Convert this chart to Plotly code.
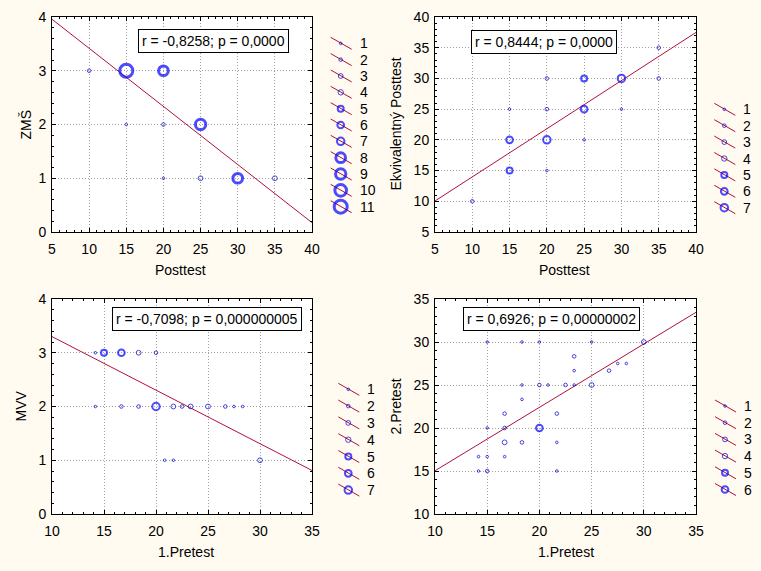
import plotly.graph_objects as go

W, H = 761, 571
FONT = "Arial, 'Liberation Sans', sans-serif"
BG = "#FFFBF0"
BLUE = "#0000FF"
BLUE_THIN = "#0000C8"
RED = "#B0103A"

# ---------------- data ----------------
# Panel 1: Posttest vs ZMŠ (count = number of cases at the point)
p1_x = [10, 15, 20, 15, 20, 25, 20, 25, 30, 35]
p1_y = [3, 3, 3, 2, 2, 2, 1, 1, 1, 1]
p1_n = [2, 11, 8, 1, 2, 9, 1, 3, 8, 3]

# Panel 2: Posttest vs Ekvivalentný Posttest
p2_x = [10, 15, 15, 15, 20, 20, 20, 20, 25, 25, 25, 30, 30, 35, 35]
p2_y = [10, 15, 20, 25, 15, 20, 25, 30, 20, 25, 30, 25, 30, 30, 35]
p2_n = [2, 5, 6, 1, 1, 7, 2, 2, 1, 6, 5, 1, 7, 2, 2]

# Panel 3: 1.Pretest vs MVV
p3_x = [14.17, 15, 16.67, 18.33, 20,
        14.17, 16.67, 18.33, 20, 21.67, 22.5, 23.33, 25, 26.67, 27.5, 28.33,
        20.83, 21.67, 30]
p3_y = [3, 3, 3, 3, 3,
        2, 2, 2, 2, 2, 2, 2, 2, 2, 2, 2,
        1, 1, 1]
p3_n = [1, 5, 6, 3, 2,
        1, 2, 2, 7, 3, 2, 3, 3, 2, 1, 1,
        1, 1, 3]

# Panel 4: 1.Pretest vs 2.Pretest
p4_x = [15, 18.33, 20, 25, 23.33, 23.33, 18.33, 20, 20.83, 22.5, 23.33, 25,
        18.33, 16.67, 21.67, 15, 16.67, 20, 16.67, 18.33, 21.67,
        14.17, 15, 16.67, 14.17, 15, 21.67, 30, 27.5, 28.33, 26.67]
p4_y = [30, 30, 30, 30, 28.33, 26.67, 25, 25, 25, 25, 25, 25,
        23.33, 21.67, 21.67, 20, 20, 20, 18.33, 18.33, 18.33,
        16.67, 16.67, 16.67, 15, 15, 15, 30, 27.5, 27.5, 26.67]
p4_n = [1, 1, 1, 1, 2, 1, 1, 2, 1, 2, 1, 3,
        1, 2, 2, 1, 2, 6, 3, 2, 1,
        1, 1, 1, 1, 2, 1, 3, 1, 1, 2]

x_titles = ["Posttest", "Posttest", "1.Pretest", "1.Pretest"]
y_titles = ["ZMŠ", "Ekvivalentný Posttest", "MVV", "2.Pretest"]
stats = ["r = -0,8258; p = 0,0000", "r = 0,8444; p = 0,0000",
         "r = -0,7098; p = 0,000000005", "r = 0,6926; p = 0,00000002"]
reg_slope = [-0.1081, 0.784, -0.0996, 0.737]
reg_intercept = [4.498, 6.13, 4.296, 7.66]
x_ranges = [[5, 40], [5, 40], [10, 35], [10, 35]]
y_ranges = [[0, 4], [5, 40], [0, 4], [10, 35]]
x_ticks = [[5, 10, 15, 20, 25, 30, 35, 40], [5, 10, 15, 20, 25, 30, 35, 40],
           [10, 15, 20, 25, 30, 35], [10, 15, 20, 25, 30, 35]]
y_ticks = [[0, 1, 2, 3, 4], [5, 10, 15, 20, 25, 30, 35, 40],
           [0, 1, 2, 3, 4], [10, 15, 20, 25, 30, 35]]
legend_max = [11, 7, 7, 6]

series = [(p1_x, p1_y, p1_n), (p2_x, p2_y, p2_n), (p3_x, p3_y, p3_n), (p4_x, p4_y, p4_n)]

# ---------------- layout geometry (pixels) ----------------
panels = [(52, 312, 17, 232), (435, 696, 17, 232), (52, 312, 299, 514), (435, 696, 299, 514)]
y_minor = [0.2, 1, 0.2, 1]
stat_pos = [(213.5, 41.5), (544, 42), (207, 319), (551.5, 318.5)]
xt_pos = [(180.5, 270), (564.7, 270), (186, 551.7), (565.8, 551.7)]
yt_pos = [(25, 124.5), (395, 124.5), (20, 406.5), (395, 406.5)]
leg_pos = [(340.7, 43.3, 16.34), (724.3, 109.3, 16.4), (348.3, 389.3, 16.8), (725, 406, 16.7)]

OUTER = {1: 3.6, 2: 4.6, 3: 5.8, 4: 6.4, 5: 8, 6: 8.7, 7: 9.5, 8: 12.7, 9: 13.3, 10: 14.7, 11: 16}


def ring_width(n):
    return 1 if n <= 4 else (2 if n <= 7 else 3)


def ring_size(n):
    return OUTER[n] - ring_width(n)


def ring_color(n):
    return BLUE_THIN if n <= 4 else BLUE


def px(x):
    return x / W


def py(y):
    return 1 - y / H


fig = go.Figure()
annotations = []
shapes = []

for i in range(4):
    k = "" if i == 0 else str(i + 1)
    xa, ya = "x" + k, "y" + k
    l, r, t, b = panels[i]
    xs, ys, ns = series[i]

    # white plot area
    shapes.append(dict(type="rect", xref=xa + " domain", yref=ya + " domain",
                       x0=0, x1=1, y0=0, y1=1, fillcolor="white",
                       line=dict(width=0), layer="below"))

    # regression line
    x0, x1 = x_ranges[i]
    fig.add_trace(go.Scatter(
        x=[x0, x1], y=[reg_intercept[i] + reg_slope[i] * x0, reg_intercept[i] + reg_slope[i] * x1],
        mode="lines", line=dict(color=RED, width=1), xaxis=xa, yaxis=ya,
        showlegend=False, hoverinfo="skip"))

    # bubble points
    fig.add_trace(go.Scatter(
        x=xs, y=ys, mode="markers", xaxis=xa, yaxis=ya, showlegend=False,
        marker=dict(symbol="circle-open", color=[ring_color(n) for n in ns],
                    size=[ring_size(n) for n in ns],
                    line=dict(width=[ring_width(n) for n in ns]))))

    axis_common = dict(showline=True, linecolor="black", linewidth=1, mirror="ticks",
                       ticks="inside", ticklen=4, tickcolor="black",
                       showgrid=True, gridcolor="#A0A0A0", griddash="1px,2px", gridwidth=1,
                       zeroline=False, tickfont=dict(family=FONT, size=14, color="black"),
                       fixedrange=True, automargin=False)
    fig.update_layout(**{
        ("xaxis" + k): dict(domain=[px(l), px(r)], range=x_ranges[i], tickvals=x_ticks[i],
                            anchor=ya,
                            minor=dict(dtick=1, tick0=0, ticks="inside", ticklen=2,
                                       tickcolor="black", showgrid=False),
                            ticklabelstandoff=4, **axis_common),
        ("yaxis" + k): dict(domain=[py(b), py(t)], range=y_ranges[i], tickvals=y_ticks[i],
                            anchor=xa,
                            minor=dict(dtick=y_minor[i], tick0=0, ticks="inside", ticklen=2,
                                       tickcolor="black", showgrid=False),
                            ticklabelstandoff=2, **axis_common),
    })

    # stats box
    sx, sy = stat_pos[i]
    annotations.append(dict(x=px(sx), y=py(sy), xref="paper", yref="paper",
                            text=stats[i], showarrow=False, xanchor="center", yanchor="middle",
                            bgcolor="white", bordercolor="black", borderwidth=1, borderpad=3,
                            font=dict(family=FONT, size=14, color="black")))
    # axis titles
    tx, ty = xt_pos[i]
    annotations.append(dict(x=px(tx), y=py(ty), xref="paper", yref="paper", text=x_titles[i],
                            showarrow=False, xanchor="center", yanchor="middle",
                            font=dict(family=FONT, size=14, color="black")))
    tx, ty = yt_pos[i]
    annotations.append(dict(x=px(tx), y=py(ty), xref="paper", yref="paper", text=y_titles[i],
                            showarrow=False, xanchor="center", yanchor="middle", textangle=-90,
                            font=dict(family=FONT, size=14, color="black")))

    # legend (drawn in page-pixel overlay axes)
    mx, my0, dy = leg_pos[i]
    lx, ly, mxs, mys, msz, mlw, mcol = [], [], [], [], [], [], []
    for n in range(1, legend_max[i] + 1):
        my = my0 + (n - 1) * dy
        lx += [mx - 10, mx + 11, None]
        ly += [my - 6, my + 6, None]
        mxs.append(mx)
        mys.append(my)
        msz.append(ring_size(n))
        mlw.append(ring_width(n))
        mcol.append(ring_color(n))
        annotations.append(dict(x=px(mx + 17), y=py(my), xref="paper", yref="paper",
                                text=str(n), showarrow=False, xanchor="left", yanchor="middle",
                                font=dict(family=FONT, size=14, color="black")))
    fig.add_trace(go.Scatter(x=lx, y=ly, mode="lines", xaxis="x5", yaxis="y5",
                             line=dict(color=RED, width=1), showlegend=False, hoverinfo="skip"))
    fig.add_trace(go.Scatter(x=mxs, y=mys, mode="markers", xaxis="x5", yaxis="y5",
                             showlegend=False, hoverinfo="skip",
                             marker=dict(symbol="circle-open", color=mcol, size=msz,
                                         line=dict(width=mlw))))

fig.update_layout(
    xaxis5=dict(domain=[0, 1], range=[0, W], visible=False, anchor="y5", fixedrange=True),
    yaxis5=dict(domain=[0, 1], range=[H, 0], visible=False, anchor="x5", fixedrange=True),
    width=W, height=H, margin=dict(l=0, r=0, t=0, b=0, pad=0, autoexpand=False),
    paper_bgcolor=BG, plot_bgcolor="rgba(0,0,0,0)",
    annotations=annotations, shapes=shapes, showlegend=False,
    font=dict(family=FONT, size=14, color="black"),
)

fig.write_html(
    "out.html",
    config={"displayModeBar": False, "staticPlot": True},
    post_script="document.body.style.margin='0';document.body.style.padding='0';"
                "document.body.style.overflow='hidden';"
                "document.documentElement.style.overflow='hidden';",
)
